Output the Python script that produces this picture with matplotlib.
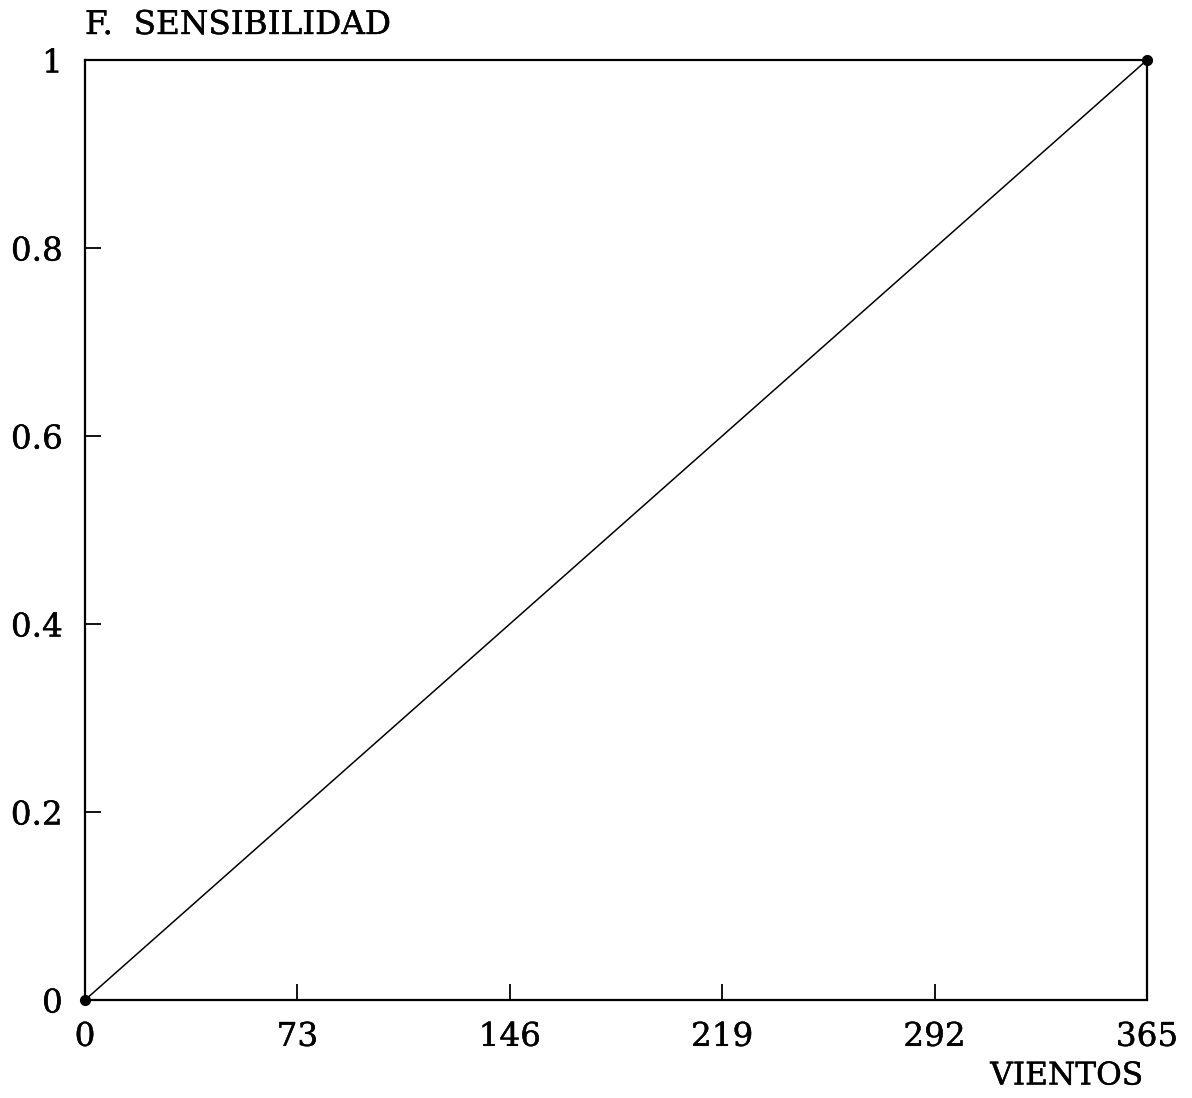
import matplotlib
matplotlib.use("Agg")
import matplotlib.pyplot as plt
import matplotlib.patheffects as pe

x_vals = [0, 365]
y_vals = [0, 1]
x_ticks = [0, 73, 146, 219, 292, 365]
x_tick_labels = ["0", "73", "146", "219", "292", "365"]
y_ticks = [0, 0.2, 0.4, 0.6, 0.8, 1]
y_tick_labels = ["0", "0.2", "0.4", "0.6", "0.8", "1"]
title_text = "F.  SENSIBILIDAD"
xlabel_text = "VIENTOS"

plt.rcParams['font.family'] = ['DejaVu Serif']
plt.rcParams['axes.unicode_minus'] = False

bold = [pe.withStroke(linewidth=0.3, foreground='black')]

fig = plt.figure(figsize=(11.92, 10.98), dpi=100)
ax = fig.add_axes([85/1192, 1 - 1000/1098, (1147-85)/1192, (1000-60)/1098])

ax.plot(x_vals, y_vals, color='black', linewidth=1.1)
ax.plot(x_vals, y_vals, 'o', color='black', markersize=7, clip_on=False)

ax.set_xlim(0, 365)
ax.set_ylim(0, 1)
ax.set_xticks(x_ticks)
ax.set_xticklabels(x_tick_labels)
ax.set_yticks(y_ticks)
ax.set_yticklabels(y_tick_labels)
ax.tick_params(direction='in', length=11.5, width=1.3, labelsize=23.5)
ax.tick_params(axis='x', pad=15)
ax.tick_params(axis='y', pad=16)
for lab in ax.get_xticklabels() + ax.get_yticklabels():
    lab.set_path_effects(bold)
for s in ax.spines.values():
    s.set_linewidth(1.6)

fig.text(85/1192, 1 - 25/1098, title_text, fontsize=23.5,
         ha='left', va='center', path_effects=bold)
fig.text(1143/1192, 1 - 1076/1098, xlabel_text, fontsize=22.5,
         ha='right', va='center', path_effects=bold)

fig.savefig("out.png", dpi=100)
